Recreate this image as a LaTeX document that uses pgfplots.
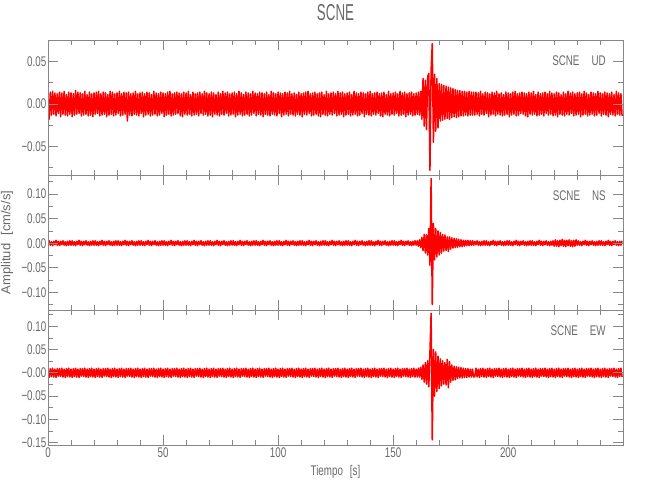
\documentclass[border=0pt]{standalone}
\usepackage{pgfplots}
\pgfplotsset{compat=1.18}
\usepackage{pgfplotstable}
\usepackage{fontspec}
\setmainfont{Liberation Sans}[FakeStretch=0.7]
\newfontfamily\titlefont{Liberation Sans}[FakeStretch=0.58]
\newfontfamily\widefont{Liberation Sans}
\definecolor{axisgray}{RGB}{135,135,135}
\definecolor{txtgray}{RGB}{105,105,105}
\definecolor{sred}{RGB}{255,0,0}
% amplitudes in units of 0.001 cm/s/s
\pgfplotstableread{
t u n e
0 10 -4 8
0.5 -18 5 -10
1 14 -4 9
1.5 -13 3 -8
2 15 -5 10
2.5 -12 4 -9
3 13 -3 8
3.5 -14 6 -10
4 12 -4 9
4.5 -11 4 -7
5 14 -5 9
5.5 -15 4 -8
6 13 -3 10
6.5 -12 5 -9
7 15 -4 8
7.5 -13 3 -10
8 11 -5 9
8.5 -14 4 -8
9 14 -4 10
9.5 -12 5 -9
10 13 -4 8
10.5 -15 5 -10
11 12 -4 9
11.5 -13 3 -8
12 16 -5 10
12.5 -12 4 -9
13 14 -3 8
13.5 -11 6 -10
14 13 -4 9
14.5 -14 4 -7
15 12 -5 9
15.5 -13 4 -8
16 15 -3 10
16.5 -12 5 -9
17 11 -4 8
17.5 -14 3 -10
18 14 -5 9
18.5 -13 4 -8
19 12 -4 10
19.5 -15 5 -9
20 13 -4 8
20.5 -12 5 -10
21 14 -4 9
21.5 -11 3 -8
22 15 -5 10
22.5 -14 4 -9
23 12 -3 8
23.5 -13 6 -10
24 14 -4 9
24.5 -12 4 -7
25 13 -5 9
25.5 -15 4 -8
26 11 -3 10
26.5 -13 5 -9
27 15 -4 8
27.5 -12 3 -10
28 14 -5 9
28.5 -14 4 -8
29 12 -4 10
29.5 -13 5 -9
30 13 -4 8
30.5 -11 5 -10
31 15 -4 9
31.5 -14 3 -8
32 12 -5 10
32.5 -13 4 -9
33 14 -3 8
33.5 -12 6 -10
34 13 -4 9
34.5 -20 4 -7
35 14 -5 9
35.5 -13 4 -8
36 12 -3 10
36.5 -14 5 -9
37 13 -4 8
37.5 -12 3 -10
38 15 -5 9
38.5 -13 4 -8
39 12 -4 10
39.5 -14 5 -9
40 13 -4 8
40.5 -11 5 -10
41 14 -4 9
41.5 -15 3 -8
42 12 -5 10
42.5 -13 4 -9
43 14 -3 8
43.5 -12 6 -10
44 13 -4 9
44.5 -14 4 -7
45 11 -5 9
45.5 -13 4 -8
46 15 -3 10
46.5 -12 5 -9
47 13 -4 8
47.5 -14 3 -10
48 12 -5 9
48.5 -13 4 -8
49 14 -4 10
49.5 -11 5 -9
50 13 -4 8
50.5 -15 5 -10
51 12 -4 9
51.5 -13 3 -8
52 14 -5 10
52.5 -12 4 -9
53 15 -3 8
53.5 -14 6 -10
54 12 -4 9
54.5 -13 4 -7
55 13 -5 9
55.5 -12 4 -8
56 14 -3 10
56.5 -11 5 -9
57 13 -4 8
57.5 -14 3 -10
58 12 -5 9
58.5 -15 4 -8
59 14 -4 10
59.5 -12 5 -9
60 13 -4 8
60.5 -13 5 -10
61 15 -4 9
61.5 -12 3 -8
62 11 -5 10
62.5 -14 4 -9
63 14 -3 8
63.5 -13 6 -10
64 12 -4 9
64.5 -12 4 -7
65 13 -5 9
65.5 -14 4 -8
66 14 -3 10
66.5 -11 5 -9
67 12 -4 8
67.5 -13 3 -10
68 15 -5 9
68.5 -12 4 -8
69 13 -4 10
69.5 -14 5 -9
70 12 -4 8
70.5 -13 5 -10
71 14 -4 9
71.5 -15 3 -8
72 13 -5 10
72.5 -12 4 -9
73 11 -3 8
73.5 -13 6 -10
74 14 -4 9
74.5 -14 4 -7
75 12 -5 9
75.5 -12 4 -8
76 15 -3 10
76.5 -13 5 -9
77 13 -4 8
77.5 -11 3 -10
78 14 -5 9
78.5 -14 4 -8
79 12 -4 10
79.5 -13 5 -9
80 13 -4 8
80.5 -12 5 -10
81 14 -4 9
81.5 -15 3 -8
82 12 -5 10
82.5 -13 4 -9
83 15 -3 8
83.5 -12 6 -10
84 13 -4 9
84.5 -14 4 -7
85 11 -5 9
85.5 -13 4 -8
86 14 -3 10
86.5 -12 5 -9
87 13 -4 8
87.5 -14 3 -10
88 12 -5 9
88.5 -13 4 -8
89 15 -4 10
89.5 -11 5 -9
90 13 -4 8
90.5 -14 5 -10
91 12 -4 9
91.5 -12 3 -8
92 14 -5 10
92.5 -13 4 -9
93 13 -3 8
93.5 -15 6 -10
94 12 -4 9
94.5 -12 4 -7
95 14 -5 9
95.5 -13 4 -8
96 11 -3 10
96.5 -14 5 -9
97 15 -4 8
97.5 -12 3 -10
98 13 -5 9
98.5 -13 4 -8
99 12 -4 10
99.5 -14 5 -9
100 14 -4 8
100.5 -11 5 -10
101 13 -4 9
101.5 -15 3 -8
102 12 -5 10
102.5 -13 4 -9
103 14 -3 8
103.5 -12 6 -10
104 13 -4 9
104.5 -14 4 -7
105 15 -5 9
105.5 -12 4 -8
106 12 -3 10
106.5 -13 5 -9
107 13 -4 8
107.5 -14 3 -10
108 11 -5 9
108.5 -12 4 -8
109 14 -4 10
109.5 -13 5 -9
110 12 -4 8
110.5 -15 5 -10
111 13 -4 9
111.5 -12 3 -8
112 14 -5 10
112.5 -13 4 -9
113 15 -3 8
113.5 -11 6 -10
114 12 -4 9
114.5 -14 4 -7
115 13 -5 9
115.5 -13 4 -8
116 14 -3 10
116.5 -12 5 -9
117 12 -4 8
117.5 -14 3 -10
118 13 -5 9
118.5 -15 4 -8
119 14 -4 10
119.5 -12 5 -9
120 11 -4 8
120.5 -13 5 -10
121 15 -4 9
121.5 -14 3 -8
122 12 -5 10
122.5 -12 4 -9
123 13 -3 8
123.5 -13 6 -10
124 14 -4 9
124.5 -11 4 -7
125 12 -5 9
125.5 -14 4 -8
126 15 -3 10
126.5 -13 5 -9
127 13 -4 8
127.5 -12 3 -10
128 14 -5 9
128.5 -15 4 -8
129 12 -4 10
129.5 -13 5 -9
130 13 -4 8
130.5 -12 5 -10
131 14 -4 9
131.5 -14 3 -8
132 11 -5 10
132.5 -13 4 -9
133 15 -3 8
133.5 -12 6 -10
134 13 -4 9
134.5 -14 4 -7
135 12 -5 9
135.5 -13 4 -8
136 14 -3 10
136.5 -11 5 -9
137 13 -4 8
137.5 -15 3 -10
138 12 -5 9
138.5 -12 4 -8
139 14 -4 10
139.5 -13 5 -9
140 15 -4 8
140.5 -14 5 -10
141 12 -4 9
141.5 -12 3 -8
142 13 -5 10
142.5 -13 4 -9
143 14 -3 8
143.5 -11 6 -10
144 12 -4 9
144.5 -14 4 -7
145 13 -5 9
145.5 -15 4 -8
146 14 -3 10
146.5 -12 5 -9
147 11 -4 8
147.5 -13 3 -10
148 15 -5 9
148.5 -14 4 -8
149 12 -4 10
149.5 -12 5 -9
150 13 -4 8
150.5 -13 5 -10
151 14 -4 9
151.5 -11 3 -8
152 12 -5 10
152.5 -14 4 -9
153 15 -3 8
153.5 -13 6 -10
154 13 -4 9
154.5 -12 4 -7
155 14 -5 9
155.5 -15 4 -8
156 12 -3 10
156.5 -13 5 -9
157 13 -4 8
157.5 -12 3 -10
158 14 -5 9
158.5 -14 4 -8
159 12 -4 10
159.5 -13 5 -9
160 13 -4 8
160.5 -12 5 -9
161 14 -6 10
161.5 -13 7 -9
162 15 -9 12
162.5 -18 12 -14
163 30 -15 17
163.5 -26 18 -20
164 28 -20 22
164.5 -30 17 -24
165 32 -24 26
165.5 36 30 -30
166 -78 -45 45
166.5 40 132 128
167 71 -125 -144
167.5 -45 40 50
168 35 -34 -50
168.5 -32 30 45
169 30 -28 -40
169.5 -28 25 36
170 24 -24 -34
170.5 -20 22 30
171 23 -20 -28
171.5 -19 18 26
172 22 -16 -24
172.5 -18 17 22
173 21 -15 -26
173.5 -17 13 29
174 20 -17 -32
174.5 -18 13 24
175 19 -12 -20
175.5 -16 11 17
176 18 -10 -16
176.5 -15 10 14
177 17 -9 -15
177.5 -16 9 13
178 16 -8 -12
178.5 -15 8 12
179 16 -7 -11
179.5 -14 7 11
180 15 -7 -11
180.5 -14 6 10
181 15 -6 -10
181.5 -13 6 9
182 14 -5 -10
182.5 -14 6 9
183 15 -5 -9
183.5 -13 5 8
184 14 -4 -9
184.5 -13 5 8
185 14 -4 -9
185.5 -13 4 -8
186 14 -3 10
186.5 -12 5 -9
187 13 -4 8
187.5 -14 3 -10
188 15 -5 9
188.5 -12 4 -8
189 12 -4 10
189.5 -13 5 -9
190 14 -4 8
190.5 -11 5 -10
191 13 -4 9
191.5 -15 3 -8
192 12 -5 10
192.5 -13 4 -9
193 14 -3 8
193.5 -12 6 -10
194 13 -4 9
194.5 -14 4 -7
195 15 -5 9
195.5 -12 4 -8
196 12 -3 10
196.5 -13 5 -9
197 13 -4 8
197.5 -14 3 -10
198 11 -5 9
198.5 -13 4 -8
199 14 -4 10
199.5 -12 5 -9
200 13 -4 8
200.5 -15 5 -10
201 12 -4 9
201.5 -13 3 -8
202 14 -5 10
202.5 -12 4 -9
203 15 -3 8
203.5 -14 6 -10
204 12 -4 9
204.5 -13 4 -7
205 13 -5 9
205.5 -11 4 -8
206 14 -3 10
206.5 -12 5 -9
207 13 -4 8
207.5 -14 3 -10
208 12 -5 9
208.5 -15 4 -8
209 14 -4 10
209.5 -12 5 -9
210 13 -4 8
210.5 -13 5 -10
211 15 -4 9
211.5 -12 3 -8
212 11 -5 10
212.5 -14 4 -9
213 14 -3 8
213.5 -13 6 -10
214 12 -4 9
214.5 -12 4 -7
215 13 -5 9
215.5 -14 4 -8
216 14 -3 10
216.5 -11 5 -9
217 12 -4 8
217.5 -13 3 -10
218 15 -5 9
218.5 -12 4 -8
219 13 -4 10
219.5 -14 5 -9
220 12 -6 8
220.5 -13 7 -10
221 14 -6 9
221.5 -15 5 -8
222 13 -7 10
222.5 -12 6 -9
223 11 -5 8
223.5 -13 8 -10
224 14 -6 9
224.5 -14 6 -7
225 12 -7 9
225.5 -12 6 -8
226 15 -5 10
226.5 -13 7 -9
227 13 -6 8
227.5 -11 5 -10
228 14 -7 9
228.5 -14 6 -8
229 12 -6 10
229.5 -13 7 -9
230 13 -4 8
230.5 -12 5 -10
231 14 -4 9
231.5 -15 3 -8
232 12 -5 10
232.5 -13 4 -9
233 15 -3 8
233.5 -12 6 -10
234 13 -4 9
234.5 -14 4 -7
235 11 -5 9
235.5 -13 4 -8
236 14 -3 10
236.5 -12 5 -9
237 13 -4 8
237.5 -14 3 -10
238 12 -5 9
238.5 -13 4 -8
239 15 -4 10
239.5 -11 5 -9
240 13 -4 8
240.5 -14 5 -10
241 12 -4 9
241.5 -12 3 -8
242 14 -5 10
242.5 -13 4 -9
243 13 -3 8
243.5 -15 6 -10
244 12 -4 9
244.5 -12 4 -7
245 14 -5 9
245.5 -13 4 -8
246 11 -3 10
246.5 -14 5 -9
247 15 -4 8
247.5 -12 3 -10
248 13 -5 9
248.5 -13 4 -8
249 12 -4 10
249.5 -14 5 -9
}\seis
\pgfplotsset{
  panel/.style={
    scale only axis, width=575pt, height=135pt,
    xmin=0, xmax=249.9,
    xtick={0,50,100,150,200},
    minor xtick={10,20,30,40,60,70,80,90,110,120,130,140,160,170,180,190,210,220,230,240},
    tick align=inside, tick pos=both,
    major tick length=10pt, minor tick length=5pt,
    axis line style={draw=axisgray, line width=0.8pt},
    tick style={draw=axisgray, line width=0.8pt},
    ticklabel style={text=txtgray, font=\fontsize{14}{14}\selectfont},
    yticklabel style={inner xsep=1.5pt},
    xticklabel style={inner ysep=3pt},
    label style={text=txtgray},
    axis on top, clip=true,
  },
}
\tikzset{tag/.style={anchor=east, text=txtgray, font=\fontsize{14}{14}\selectfont}}
\begin{document}
\begin{tikzpicture}
\begin{axis}[panel, at={(48pt,325pt)}, anchor=south west,
  ymin=-83.5, ymax=75.3,
  ytick={-50,0,50}, yticklabels={−0.05,0.00,0.05},
  minor ytick={-75,-25,25,75},
  xticklabels={},
  title={SCNE},
  title style={at={(axis description cs:0.5,1.16)}, anchor=center, inner sep=0pt, text=txtgray, font=\titlefont\fontsize{23}{23}\selectfont}]
\addplot[draw=sred, line width=1.5pt, line join=round, mark=none] table[x=t, y=u] {\seis};
\node[tag] at (rel axis cs:0.976,0.844) {SCNE\hspace{12pt}UD};
\end{axis}
\begin{axis}[panel, at={(48pt,190pt)}, anchor=south west,
  ymin=-136, ymax=139,
  ytick={-100,-50,0,50,100}, yticklabels={−0.10,−0.05,0.00,0.05,0.10},
  minor ytick={-125,-75,-25,25,75,125},
  xticklabels={},
  ylabel={Amplitud\hspace{8pt}[cm/s/s]},
  ylabel style={at={(axis description cs:-0.0713,0.5)}, anchor=center, inner sep=0pt, font=\widefont\fontsize{13}{13}\selectfont}]
\addplot[draw=sred, line width=1.5pt, line join=round, mark=none] table[x=t, y=n] {\seis};
\node[tag] at (rel axis cs:0.976,0.844) {SCNE\hspace{12pt}NS};
\end{axis}
\begin{axis}[panel, at={(48pt,55pt)}, anchor=south west,
  ymin=-155, ymax=135,
  ytick={-150,-100,-50,0,50,100}, yticklabels={−0.15,−0.10,−0.05,−0.00,0.05,0.10},
  minor ytick={-125,-75,-25,25,75,125},
  xticklabels={0,50,100,150,200},
  xlabel={Tiempo\hspace{7pt}[s]},
  xlabel style={at={(axis description cs:0.5,-0.2)}, anchor=center, inner sep=0pt, font=\fontsize{14}{14}\selectfont}]
\addplot[draw=sred, line width=1.5pt, line join=round, mark=none] table[x=t, y=e] {\seis};
\node[tag] at (rel axis cs:0.976,0.844) {SCNE\hspace{12pt}EW};
\end{axis}
\pgfresetboundingbox
\useasboundingbox (0,0) rectangle (650pt,500pt);
\end{tikzpicture}
\end{document}
